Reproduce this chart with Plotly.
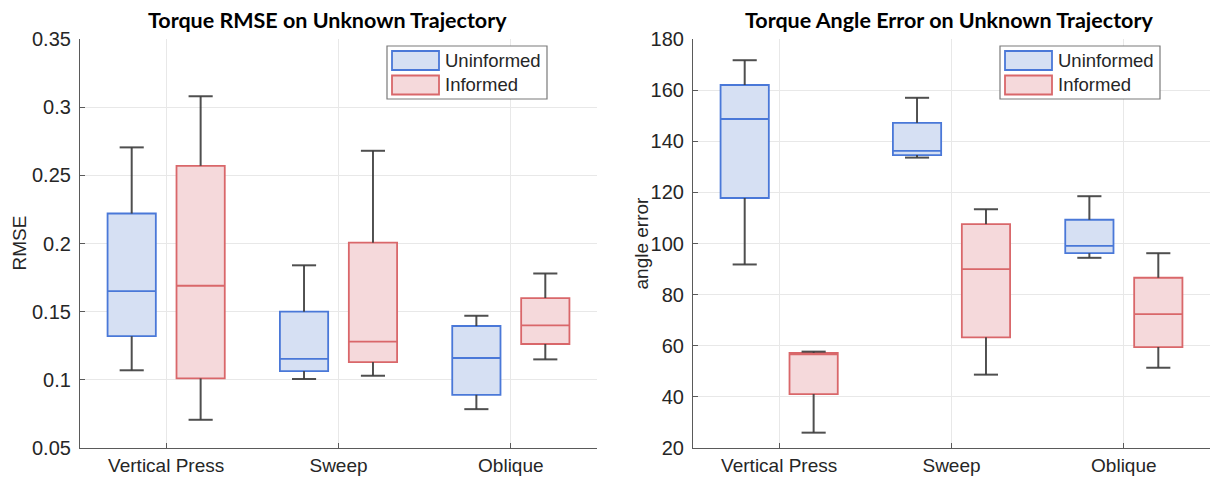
import plotly.graph_objects as go

# ---------------- data ----------------
categories = ["Vertical Press", "Sweep", "Oblique"]
series_names = ["Uninformed", "Informed"]

rmse_unin_low = [0.107, 0.1006, 0.0785]
rmse_unin_q1 = [0.132, 0.1064, 0.089]
rmse_unin_med = [0.165, 0.1154, 0.116]
rmse_unin_q3 = [0.222, 0.150, 0.1395]
rmse_unin_high = [0.2705, 0.184, 0.147]

rmse_inf_low = [0.0707, 0.103, 0.115]
rmse_inf_q1 = [0.101, 0.113, 0.1263]
rmse_inf_med = [0.169, 0.128, 0.140]
rmse_inf_q3 = [0.257, 0.2006, 0.160]
rmse_inf_high = [0.308, 0.268, 0.178]

angle_unin_low = [91.8, 133.6, 94.4]
angle_unin_q1 = [117.8, 134.6, 96.2]
angle_unin_med = [148.7, 136.2, 99.1]
angle_unin_q3 = [162.0, 147.2, 109.3]
angle_unin_high = [171.7, 157.0, 118.5]

angle_inf_low = [26.0, 48.7, 51.4]
angle_inf_q1 = [41.1, 63.3, 59.5]
angle_inf_med = [56.6, 90.0, 72.4]
angle_inf_q3 = [57.2, 107.6, 86.6]
angle_inf_high = [57.7, 113.4, 96.2]

rmse_ticks = [0.05, 0.1, 0.15, 0.2, 0.25, 0.3, 0.35]
rmse_ticktext = ["0.05", "0.1", "0.15", "0.2", "0.25", "0.3", "0.35"]
angle_ticks = [20, 40, 60, 80, 100, 120, 140, 160, 180]

titles = ["Torque RMSE on Unknown Trajectory", "Torque Angle Error on Unknown Trajectory"]
ytitles = ["RMSE", "angle error"]

# ---------------- style ----------------
W, H = 1210, 482
BLUE_LINE = "#4a78d8"
BLUE_FILL = "#d6e0f3"
RED_LINE = "#d9676a"
RED_FILL = "#f5d9db"
WHISK = "rgba(60,60,60,0.9)"
FONT = "Liberation Sans, Arial, sans-serif"
TXT = "#262626"
OFFSET = 0.2
BOXW = 0.28
CAPW = 0.14

PLOT_T, PLOT_B = 39, 448
PANEL_X = [(80, 597), (693, 1210)]
TITLE_X = [328, 949]
YTITLE_X = [19, 641]


def px_x(px):
    return px / W


def px_y(py):
    return (PLOT_B - py) / (PLOT_B - PLOT_T)


fig = go.Figure()


def add_group(xref, yref, xs, low, q1, med, q3, high, line, fill, name):
    # whiskers + caps
    wx, wy = [], []
    for x, lo, a, b, hi in zip(xs, low, q1, q3, high):
        wx += [x, x, None, x, x, None, x - CAPW / 2, x + CAPW / 2, None, x - CAPW / 2, x + CAPW / 2, None]
        wy += [b, hi, None, a, lo, None, hi, hi, None, lo, lo, None]
    fig.add_trace(go.Scatter(x=wx, y=wy, mode="lines", line=dict(color=WHISK, width=2),
                             xaxis=xref, yaxis=yref, showlegend=False, hoverinfo="skip"))
    fig.add_trace(go.Box(x=xs, q1=q1, median=med, q3=q3, lowerfence=q1, upperfence=q3,
                         width=BOXW, line=dict(color=line, width=1.8), fillcolor=fill,
                         boxpoints=False, name=name, xaxis=xref, yaxis=yref, showlegend=False,
                         whiskerwidth=0))


pos = [i + 1 for i in range(len(categories))]
unin_x = [p - OFFSET for p in pos]
inf_x = [p + OFFSET for p in pos]

add_group("x", "y", unin_x, rmse_unin_low, rmse_unin_q1, rmse_unin_med, rmse_unin_q3, rmse_unin_high,
          BLUE_LINE, BLUE_FILL, series_names[0])
add_group("x", "y", inf_x, rmse_inf_low, rmse_inf_q1, rmse_inf_med, rmse_inf_q3, rmse_inf_high,
          RED_LINE, RED_FILL, series_names[1])
add_group("x2", "y2", unin_x, angle_unin_low, angle_unin_q1, angle_unin_med, angle_unin_q3, angle_unin_high,
          BLUE_LINE, BLUE_FILL, series_names[0])
add_group("x2", "y2", inf_x, angle_inf_low, angle_inf_q1, angle_inf_med, angle_inf_q3, angle_inf_high,
          RED_LINE, RED_FILL, series_names[1])

axis_common = dict(showgrid=True, gridcolor="#e8e8e8", gridwidth=1, zeroline=False,
                   showline=True, linecolor="#5a5a5a", linewidth=1.2, ticks="inside", ticklen=5,
                   tickcolor="#5a5a5a", automargin=False)

xcommon = dict(axis_common, range=[0.5, 3.5], tickvals=pos, ticktext=categories,
               tickfont=dict(family=FONT, size=19, color=TXT))
ycommon = dict(axis_common, tickfont=dict(family=FONT, size=20, color=TXT), ticklabelstandoff=4)

fig.update_layout(
    width=W, height=H,
    margin=dict(l=0, r=0, t=PLOT_T, b=H - PLOT_B),
    paper_bgcolor="white", plot_bgcolor="white",
    showlegend=False,
    xaxis=dict(xcommon, domain=[px_x(PANEL_X[0][0]), px_x(PANEL_X[0][1])], anchor="y"),
    yaxis=dict(ycommon, range=[0.05, 0.35], tickvals=rmse_ticks, ticktext=rmse_ticktext, anchor="x"),
    xaxis2=dict(xcommon, domain=[px_x(PANEL_X[1][0]), px_x(PANEL_X[1][1])], anchor="y2"),
    yaxis2=dict(ycommon, range=[20, 180], tickvals=angle_ticks, anchor="x2"),
)

annotations = []
shapes = []
for i, (x0, x1) in enumerate(PANEL_X):
    # title
    annotations.append(dict(x=px_x(TITLE_X[i]), y=px_y(20), xref="paper", yref="paper",
                            text="<b>" + titles[i] + "</b>", showarrow=False,
                            font=dict(family="Lato, sans-serif", size=21.5, color="black"),
                            xanchor="center", yanchor="middle"))
    # y-axis title
    annotations.append(dict(x=px_x(YTITLE_X[i]), y=px_y(243.5), xref="paper", yref="paper",
                            text=ytitles[i], showarrow=False, textangle=-90,
                            font=dict(family=FONT, size=19, color=TXT),
                            xanchor="center", yanchor="middle"))
    # legend box
    lx = x0 + 307
    shapes.append(dict(type="rect", xref="paper", yref="paper",
                       x0=px_x(lx), x1=px_x(lx + 160), y0=px_y(46), y1=px_y(99),
                       line=dict(color="#7a7a7a", width=1.2), fillcolor="white", layer="above"))
    for j, (lc, fc) in enumerate([(BLUE_LINE, BLUE_FILL), (RED_LINE, RED_FILL)]):
        top = 51 + j * 24.5
        shapes.append(dict(type="rect", xref="paper", yref="paper",
                           x0=px_x(lx + 5), x1=px_x(lx + 52), y0=px_y(top), y1=px_y(top + 19),
                           line=dict(color=lc, width=1.8), fillcolor=fc, layer="above"))
        annotations.append(dict(x=px_x(lx + 56), y=px_y(top + 9.5), xref="paper", yref="paper",
                                text=series_names[j], showarrow=False, xanchor="left", yanchor="middle",
                                font=dict(family=FONT, size=18.5, color=TXT)))

fig.update_layout(annotations=annotations, shapes=shapes)

fig.write_html("out.html")
